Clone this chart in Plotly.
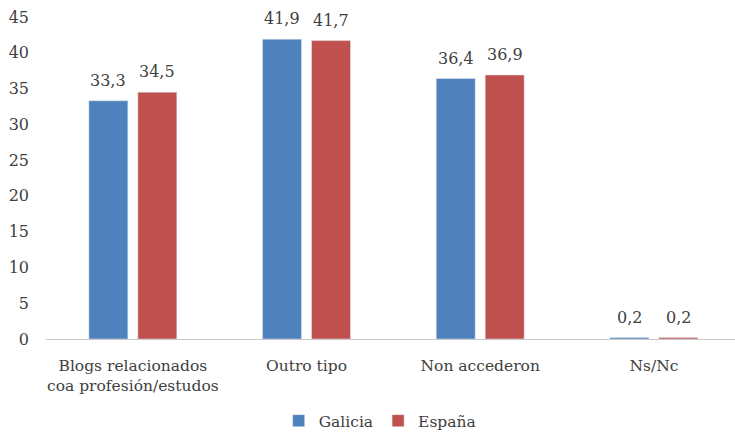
import plotly.graph_objects as go

categories = ["Blogs relacionados<br>coa profesión/estudos", "Outro tipo", "Non accederon", "Ns/Nc"]
galicia = [33.3, 41.9, 36.4, 0.2]
espana = [34.5, 41.7, 36.9, 0.2]
y_ticks = [0, 5, 10, 15, 20, 25, 30, 35, 40, 45]

FAM = "DejaVu Serif"
num_font = dict(family=FAM, size=16, color="#404040")
lab_font = dict(family=FAM, size=15.5, color="#404040")

fig = go.Figure()
fig.add_trace(go.Bar(name="Galicia", x=categories, y=galicia, marker_color="#4F81BD"))
fig.add_trace(go.Bar(name="España", x=categories, y=espana, marker_color="#C0504D"))

for vals, shift in ((galicia, -24.5), (espana, 24.5)):
    for c, v in zip(categories, vals):
        fig.add_annotation(x=c, y=v, text=f"{v:.1f}".replace(".", ","), showarrow=False,
                           xshift=shift, yshift=9, yanchor="bottom", font=num_font)

fig.update_layout(
    width=735, height=433,
    margin=dict(l=46, r=0, t=17, b=94, autoexpand=False),
    paper_bgcolor="white", plot_bgcolor="white",
    barmode="group", bargap=0.436, bargroupgap=0.204,
    font=lab_font,
    showlegend=True,
    legend=dict(orientation="h", x=0.485, xanchor="center", y=-0.255, yanchor="middle",
                font=lab_font, itemwidth=30, traceorder="normal"),
    xaxis=dict(range=[-0.5, 3.467], showline=True, linecolor="#c8c8c8", linewidth=1,
               ticks="", tickfont=lab_font, showgrid=False, automargin=False,
               ticklabelstandoff=12),
    yaxis=dict(range=[0, 45], tickvals=y_ticks, showgrid=False, zeroline=False,
               showline=False, ticks="", tickfont=num_font, ticklabelstandoff=16,
               automargin=False),
)

fig.write_html("out.html", config={"displayModeBar": False},
               post_script="document.body.style.margin='0';document.body.style.overflow='hidden';")
